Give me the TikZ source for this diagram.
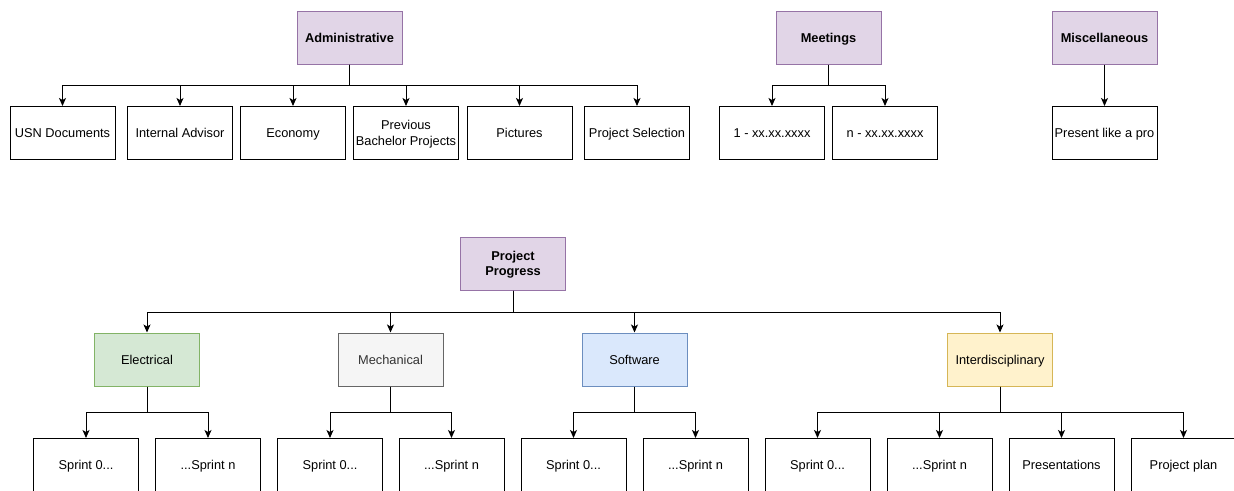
\documentclass[tikz,border=0pt]{standalone}
\usepackage{fontspec}
\setmainfont{Liberation Sans}
\usetikzlibrary{arrows.meta}

\definecolor{headfill}{HTML}{E1D5E7}
\definecolor{headline}{HTML}{9673A6}
\definecolor{elefill}{HTML}{D5E8D4}
\definecolor{eleline}{HTML}{82B366}
\definecolor{mechfill}{HTML}{F5F5F5}
\definecolor{mechline}{HTML}{666666}
\definecolor{mechtext}{HTML}{333333}
\definecolor{softfill}{HTML}{DAE8FC}
\definecolor{softline}{HTML}{6C8EBF}
\definecolor{interfill}{HTML}{FFF2CC}
\definecolor{interline}{HTML}{D6B656}

\tikzset{
  box/.style={draw=black, line width=1pt, minimum width=105pt, minimum height=53pt,
    inner sep=0pt, align=center, font=\fontsize{12.8}{15.5}\selectfont,
    text height=9.2pt, text depth=0pt},
  % the box of a two-line text has its baseline on the last line
  twolines/.style={text height=24.7pt, text depth=0pt},
  head/.style={box, fill=headfill, draw=headline, font=\fontsize{12.8}{15.5}\selectfont\bfseries},
  elebox/.style={box, fill=elefill, draw=eleline},
  mechbox/.style={box, fill=mechfill, draw=mechline, text=mechtext},
  softbox/.style={box, fill=softfill, draw=softline},
  interbox/.style={box, fill=interfill, draw=interline},
  link/.style={draw=black, line width=1pt, -{Stealth[length=8pt, width=7pt, inset=2pt]}}
}

\begin{document}
\begin{tikzpicture}[x=1pt, y=-1pt]
\useasboundingbox (0,0) rectangle (1234,490);
\clip (0,0) rectangle (1234,490);
\fill[white] (0,0) rectangle (1234,490);

% top row: heads
\node[head] (adm)  at (349.5,37.5) {Administrative};
\node[head] (meet) at (828.5,37.5) {Meetings};
\node[head] (misc) at (1104.5,37.5) {Miscellaneous};

% top row: children
\node[box] (usn)  at (62.5,133)  {USN Documents};
\node[box] (adv)  at (180,133)   {Internal Advisor};
\node[box] (eco)  at (293,133)   {Economy};
\node[box, twolines] (prev) at (406,133) {Previous\\Bachelor Projects};
\node[box] (pic)  at (519.5,133) {Pictures};
\node[box] (sel)  at (637,133)   {Project Selection};
\node[box] (mone) at (772,133)   {1 - xx.xx.xxxx};
\node[box] (mlast) at (885,133)  {n - xx.xx.xxxx};
\node[box] (pro)  at (1104.5,133) {Present like a pro};

\foreach \c in {usn,adv,eco,prev,pic,sel}
  \draw[link] (adm.south) -- ++(0,21) -| (\c.north);
\foreach \c in {mone,mlast}
  \draw[link] (meet.south) -- ++(0,21) -| (\c.north);
\draw[link] (misc.south) -- (pro.north);

% project progress tree
\node[head, twolines] (pp) at (513,263.5) {Project\\Progress};

\node[elebox]   (ele)   at (147,359.5)   {Electrical};
\node[mechbox]  (mech)  at (390.5,359.5) {Mechanical};
\node[softbox]  (soft)  at (634.5,359.5) {Software};
\node[interbox] (inter) at (1000,359.5)  {Interdisciplinary};

\foreach \c in {ele,mech,soft,inter}
  \draw[link] (pp.south) -- ++(0,21.5) -| (\c.north);

\node[box] (ezero) at (86,465)     {Sprint 0...};
\node[box] (elast) at (208,465)    {...Sprint n};
\node[box] (mzero) at (330,465)    {Sprint 0...};
\node[box] (mlst)  at (451.5,465)  {...Sprint n};
\node[box] (szero) at (573.5,465)  {Sprint 0...};
\node[box] (slast) at (695.5,465)  {...Sprint n};
\node[box] (izero) at (817.5,465)  {Sprint 0...};
\node[box] (ilast) at (939.5,465)  {...Sprint n};
\node[box] (ipres) at (1061.5,465) {Presentations};
\node[box] (iplan) at (1183.5,465) {Project plan};

\foreach \c in {ezero,elast}
  \draw[link] (ele.south) -- ++(0,26) -| (\c.north);
\foreach \c in {mzero,mlst}
  \draw[link] (mech.south) -- ++(0,26) -| (\c.north);
\foreach \c in {szero,slast}
  \draw[link] (soft.south) -- ++(0,26) -| (\c.north);
\foreach \c in {izero,ilast,ipres,iplan}
  \draw[link] (inter.south) -- ++(0,26) -| (\c.north);
\end{tikzpicture}
\end{document}
